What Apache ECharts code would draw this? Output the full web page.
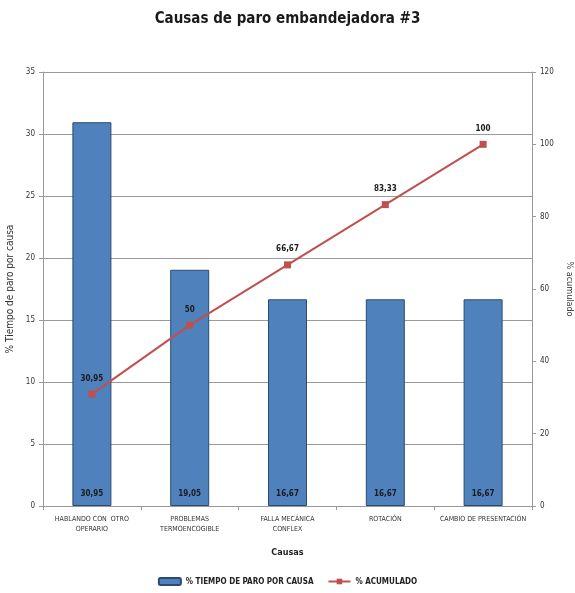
<!DOCTYPE html>
<html>
<head>
<meta charset="utf-8">
<script src="https://cdn.jsdelivr.net/npm/echarts@6/dist/echarts.min.js"></script>
<style>
  html, body { margin: 0; padding: 0; background: #fff; }
  #chart { width: 575px; height: 593px; }
</style>
</head>
<body>
<div id="chart"></div>
<script>
// Pareto de causas de paro
const causas = ['HABLANDO CON  OTRO\nOPERARIO', 'PROBLEMAS\nTERMOENCOGIBLE', 'FALLA MECÁNICA\nCONFLEX', 'ROTACIÓN', 'CAMBIO DE PRESENTACIÓN'];
const tiempoParo = [30.95, 19.05, 16.67, 16.67, 16.67];
const acumulado = [30.95, 50, 66.67, 83.33, 100];
const ticksIzq = [0, 5, 10, 15, 20, 25, 30, 35];
const ticksDer = [0, 20, 40, 60, 80, 100, 120];

const FONT = '"Liberation Sans Narrow", "DejaVu Sans Condensed", "Liberation Sans", sans-serif';
const fmt = v => String(v).replace('.', ',');

const chart = echarts.init(document.getElementById('chart'));
chart.setOption({
  animation: false,
  textStyle: { fontFamily: FONT },
  title: {
    text: 'Causas de paro embandejadora #3',
    left: 'center',
    top: 7,
    textStyle: { fontFamily: FONT, fontSize: 15, fontWeight: 'bold', color: '#1a1a1a' }
  },
  grid: { left: 43, right: 43, top: 72, bottom: 87, outerBoundsMode: 'none', containLabel: false },
  legend: {
    bottom: 2,
    left: 'center',
    itemGap: 14,
    itemWidth: 22,
    itemHeight: 7,
    textStyle: { fontFamily: FONT, fontSize: 8, fontWeight: 'bold', color: '#222' },
    data: [
      { name: '% TIEMPO DE PARO POR CAUSA' },
      { name: '% ACUMULADO' }
    ]
  },
  xAxis: {
    type: 'category',
    data: causas,
    name: 'Causas',
    nameLocation: 'middle',
    nameGap: 42,
    nameTextStyle: { fontFamily: FONT, fontSize: 9, fontWeight: 'bold', color: '#222' },
    axisLine: { lineStyle: { color: '#999', width: 1 } },
    axisTick: { show: true, length: 4, lineStyle: { color: '#999' } },
    axisLabel: { fontFamily: FONT, fontSize: 7, color: '#333', interval: 0, margin: 8, lineHeight: 10 }
  },
  yAxis: [
    {
      type: 'value',
      min: ticksIzq[0],
      max: ticksIzq[ticksIzq.length - 1],
      interval: 5,
      name: '% Tiempo de paro por causa',
      nameLocation: 'middle',
      nameGap: 24,
      nameTextStyle: { fontFamily: FONT, fontSize: 10, color: '#333' },
      axisLine: { show: true, lineStyle: { color: '#999' } },
      axisTick: { show: true, length: 4, lineStyle: { color: '#999' } },
      axisLabel: { fontFamily: FONT, fontSize: 8, color: '#333', margin: 8 },
      splitLine: { lineStyle: { color: '#9a9a9a', width: 1 } }
    },
    {
      type: 'value',
      min: ticksDer[0],
      max: ticksDer[ticksDer.length - 1],
      interval: 20,
      position: 'right',
      name: '% acumulado',
      nameLocation: 'middle',
      nameGap: 30,
      nameRotate: -90,
      nameTextStyle: { fontFamily: FONT, fontSize: 9, color: '#333' },
      axisLine: { show: true, lineStyle: { color: '#999' } },
      axisTick: { show: true, length: 4, lineStyle: { color: '#999' } },
      axisLabel: { fontFamily: FONT, fontSize: 8, color: '#333', margin: 8 },
      splitLine: { show: false }
    }
  ],
  series: [
    {
      name: '% TIEMPO DE PARO POR CAUSA',
      type: 'bar',
      yAxisIndex: 0,
      data: tiempoParo,
      barWidth: 39,
      itemStyle: { color: '#4F81BD', borderColor: '#2B4A73', borderWidth: 1 },
      label: {
        show: true,
        position: 'insideBottom',
        distance: 8,
        formatter: p => fmt(p.value),
        fontFamily: FONT, fontSize: 8, fontWeight: 'bold', color: '#1a1a1a'
      },
      z: 2
    },
    {
      name: '% ACUMULADO',
      type: 'line',
      yAxisIndex: 1,
      data: acumulado,
      symbol: 'rect',
      symbolSize: 7,
      lineStyle: { color: '#C0504D', width: 2 },
      itemStyle: { color: '#C0504D' },
      label: {
        show: true,
        position: 'top',
        distance: 8,
        formatter: p => fmt(p.value),
        fontFamily: FONT, fontSize: 8, fontWeight: 'bold', color: '#1a1a1a'
      },
      z: 3
    }
  ]
});
</script>
</body>
</html>
